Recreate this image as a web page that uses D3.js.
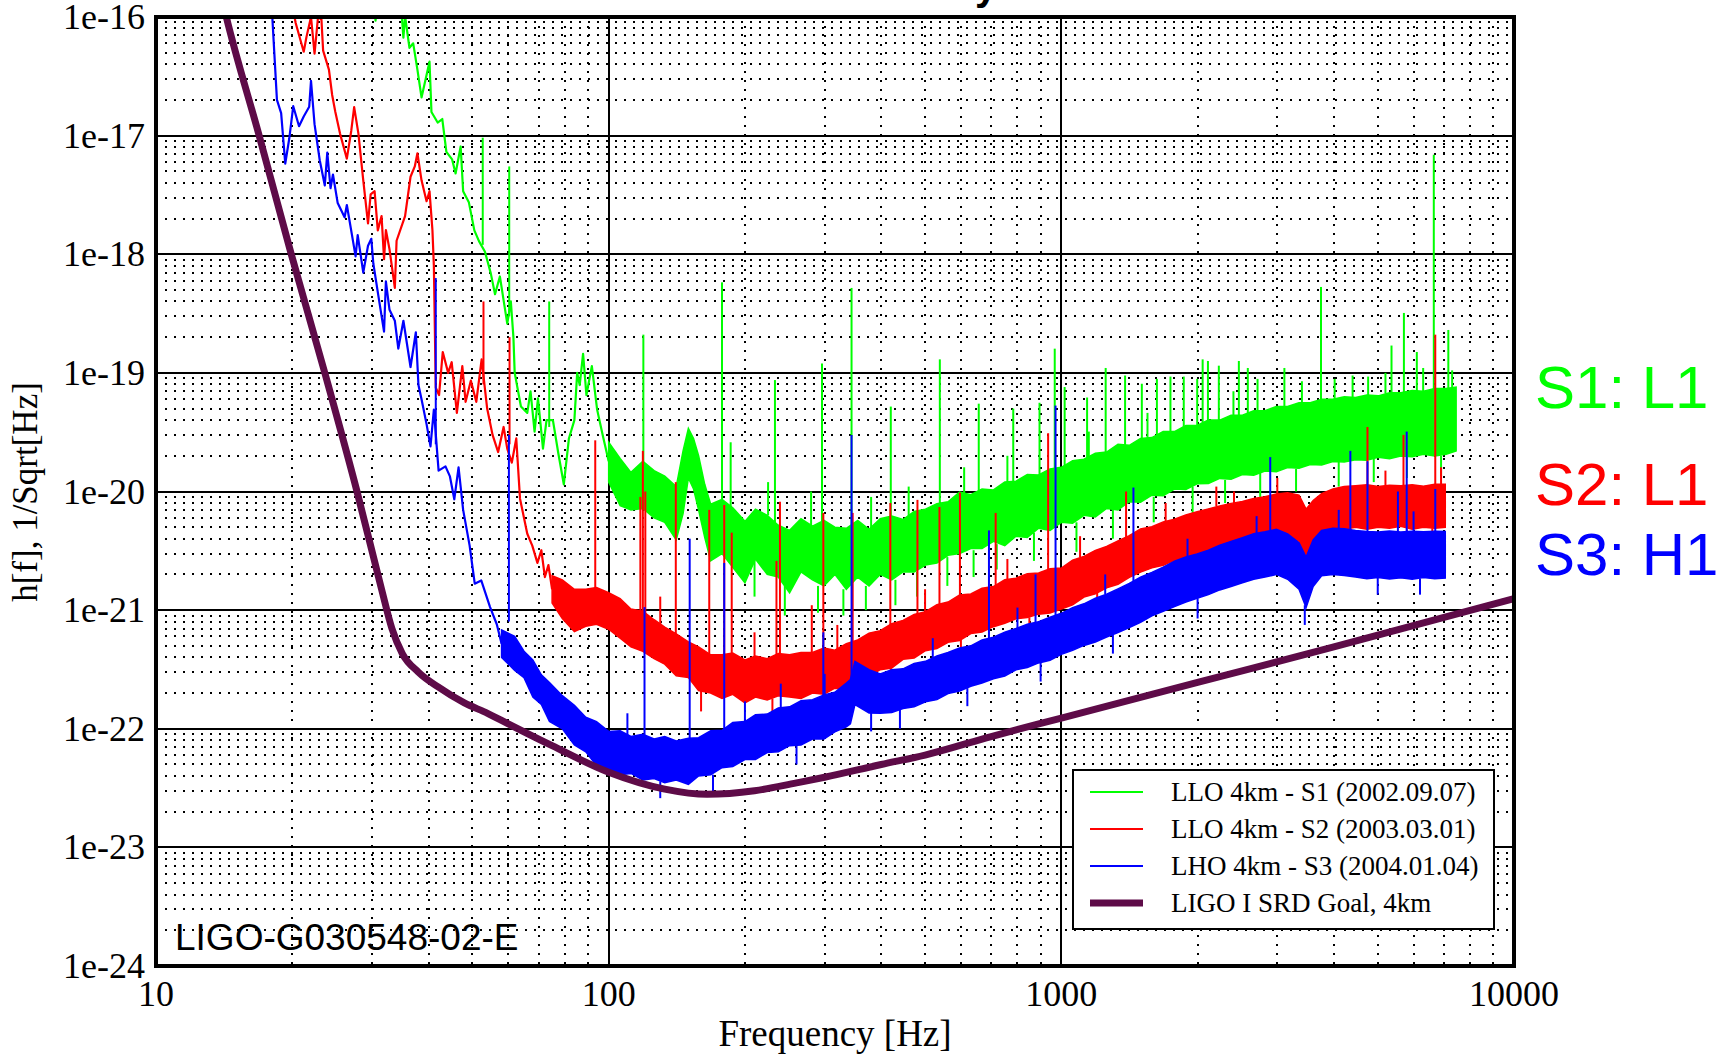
<!DOCTYPE html>
<html>
<head>
<meta charset="utf-8">
<script src="https://cdn.jsdelivr.net/npm/d3@7"></script>
<style>
  body { margin: 0; background: #ffffff; }
  svg { display: block; }
</style>
</head>
<body>
<svg id="chart" width="1732" height="1054"></svg>
<script>
// ---------------- DATA ----------------
const xTickValues = [10, 100, 1000, 10000];
const xTickLabels = ["10", "100", "1000", "10000"];
const yTickValues = [1e-16, 1e-17, 1e-18, 1e-19, 1e-20, 1e-21, 1e-22, 1e-23, 1e-24];
const yTickLabels = ["1e-16", "1e-17", "1e-18", "1e-19", "1e-20", "1e-21", "1e-22", "1e-23", "1e-24"];

const seriesNames = ["LLO 4km - S1 (2002.09.07)", "LLO 4km - S2 (2003.03.01)", "LHO 4km - S3 (2004.01.04)", "LIGO I SRD Goal, 4km"];
const sideLabels = ["S1: L1", "S2: L1", "S3: H1"];

// S1 (green) : low-frequency single trace [f, h]
const greenLine = [
  [30.2, 1.4e-16], [30.55, 9.3e-17], [30.9, 1.4e-16], [34.7, 1.4e-16], [35.2, 6.7e-17], [35.5, 1.02e-16],
  [36.3, 5.5e-17], [37.0, 6.0e-17], [37.8, 3.6e-17], [38.6, 2.1e-17], [40.2, 4.2e-17], [40.6, 1.58e-17],
  [41.9, 1.29e-17], [42.9, 1.38e-17], [43.8, 7.3e-18], [45.1, 6.3e-18], [45.9, 4.8e-18], [47.1, 8.1e-18],
  [47.7, 3.4e-18], [49.1, 2.75e-18], [50.5, 1.59e-18], [51.7, 1.29e-18], [53.3, 1.05e-18], [54.9, 6.9e-19],
  [56.1, 4.6e-19], [57.5, 6.5e-19], [59.7, 2.6e-19], [60.8, 4.0e-19], [61.6, 2.0e-19], [62.0, 1.0e-19],
  [64.0, 5.2e-20], [66.1, 4.6e-20], [67.2, 7.0e-20], [68.6, 3.2e-20], [69.8, 6.1e-20], [71.6, 2.3e-20],
  [72.9, 4.0e-20], [75.3, 4.0e-20], [77.4, 2.1e-20], [79.6, 1.15e-20], [81.7, 2.8e-20], [84.0, 4.0e-20],
  [85.2, 1.0e-19], [86.3, 7.9e-20], [87.8, 1.45e-19], [89.3, 6.5e-20], [91.8, 1.14e-19], [94.3, 4.9e-20],
  [97.0, 3.0e-20], [100, 1.8e-20]
];
// S1 (green) : noise band [f, low edge, high edge]
const greenBand = [
  [100, 1.2e-20, 2.6e-20], [106, 7.6e-21, 1.9e-20], [112, 7.0e-21, 1.45e-20], [119, 7.2e-21, 1.8e-20],
  [126, 6.0e-21, 1.5e-20], [133, 5.5e-21, 1.35e-20], [141, 3.9e-21, 1.1e-20], [146, 6.5e-21, 2.2e-20],
  [150, 1.3e-20, 3.4e-20], [154, 1.05e-20, 2.8e-20], [158, 7.0e-21, 2.0e-20], [163, 4.1e-21, 1.15e-20],
  [168, 2.6e-21, 7.8e-21], [178, 3.0e-21, 8.6e-21], [188, 2.3e-21, 7.3e-21], [200, 1.7e-21, 5.6e-21],
  [211, 2.7e-21, 7.1e-21], [224, 2.0e-21, 6.3e-21], [237, 1.9e-21, 5.2e-21], [251, 1.4e-21, 4.7e-21],
  [266, 2.1e-21, 5.9e-21], [282, 1.8e-21, 5.1e-21], [299, 1.6e-21, 5.7e-21], [316, 2.0e-21, 5.0e-21],
  [335, 1.5e-21, 4.9e-21], [355, 1.9e-21, 5.7e-21], [376, 1.6e-21, 4.8e-21], [398, 2.0e-21, 5.9e-21],
  [422, 1.8e-21, 6.2e-21], [447, 2.1e-21, 5.8e-21], [473, 2.1e-21, 6.8e-21], [501, 2.4e-21, 7.1e-21],
  [531, 2.5e-21, 7.9e-21], [562, 2.9e-21, 8.2e-21], [596, 3.0e-21, 9.9e-21], [631, 3.3e-21, 9.4e-21],
  [668, 3.3e-21, 1.05e-20], [708, 3.8e-21, 1.03e-20], [750, 3.5e-21, 1.2e-20], [794, 4.2e-21, 1.22e-20],
  [841, 4.1e-21, 1.39e-20], [891, 4.9e-21, 1.38e-20], [944, 4.7e-21, 1.55e-20], [1000, 5.5e-21, 1.6e-20],
  [1059, 5.4e-21, 1.82e-20], [1122, 6.3e-21, 1.87e-20], [1189, 6.1e-21, 2.1e-20], [1259, 7.2e-21, 2.15e-20],
  [1334, 7.0e-21, 2.5e-20], [1413, 8.2e-21, 2.45e-20], [1496, 8.1e-21, 2.8e-20], [1585, 9.3e-21, 2.85e-20],
  [1679, 9.2e-21, 3.2e-20], [1778, 1.05e-20, 3.2e-20], [1884, 1.04e-20, 3.6e-20], [1995, 1.16e-20, 3.6e-20],
  [2113, 1.17e-20, 4.0e-20], [2239, 1.29e-20, 4.0e-20], [2371, 1.27e-20, 4.4e-20], [2512, 1.39e-20, 4.4e-20],
  [2661, 1.37e-20, 4.8e-20], [2818, 1.49e-20, 4.8e-20], [2985, 1.47e-20, 5.2e-20], [3162, 1.59e-20, 5.2e-20],
  [3350, 1.57e-20, 5.6e-20], [3548, 1.69e-20, 5.6e-20], [3758, 1.67e-20, 6.0e-20], [3981, 1.79e-20, 6.0e-20],
  [4217, 1.77e-20, 6.3e-20], [4467, 1.85e-20, 6.2e-20], [4732, 1.83e-20, 6.5e-20], [5012, 1.94e-20, 6.4e-20],
  [5309, 1.89e-20, 6.8e-20], [5623, 1.99e-20, 6.8e-20], [5957, 1.96e-20, 7.1e-20], [6310, 2.06e-20, 7.0e-20],
  [6683, 1.99e-20, 7.4e-20], [7079, 2.06e-20, 7.4e-20], [7450, 2.2e-20, 7.6e-20]
];
// S1 (green) : line features [f, base, peak]
const greenSpikes = [
  [52.7, 1.2e-18, 9.6e-18], [60.3, 3.0e-19, 5.5e-18], [73.9, 3.5e-20, 4.0e-19], [119.3, 1.5e-20, 2.1e-19],
  [178, 7e-21, 5.8e-19], [186, 5e-21, 2.6e-20], [233, 4.5e-21, 8.7e-20], [296, 4e-21, 1.2e-19],
  [344, 4e-21, 5.2e-19], [420, 4e-21, 5.2e-20], [539, 5e-21, 1.3e-19], [657, 6e-21, 5.5e-20],
  [783, 7e-21, 5.0e-20], [895, 8e-21, 5.6e-20], [967, 9e-21, 1.6e-19], [1017, 1e-20, 7.6e-20],
  [1140, 1.1e-20, 6.2e-20], [1253, 1.2e-20, 1.1e-19], [1383, 1.3e-20, 9.5e-20], [1506, 1.4e-20, 8.1e-20],
  [1626, 1.5e-20, 8.9e-20], [1742, 1.6e-20, 9.3e-20], [1864, 1.7e-20, 9.3e-20], [1996, 1.8e-20, 8.9e-20],
  [2052, 1.9e-20, 1.3e-19], [2108, 1.9e-20, 1.26e-19], [2228, 2e-20, 1.15e-19], [2467, 2.2e-20, 1.26e-19],
  [2582, 2.3e-20, 1.1e-19], [2713, 2.4e-20, 8.9e-20], [3110, 2.6e-20, 1.1e-19], [3747, 3e-20, 5.3e-19],
  [4016, 3e-20, 8.9e-20], [4762, 3e-20, 9.3e-20], [5363, 3.2e-20, 1.7e-19], [5712, 3.2e-20, 3.2e-19],
  [6100, 3.3e-20, 1.5e-19], [6650, 3.5e-20, 6.9e-18], [7160, 3.5e-20, 2.3e-19]
];
// S1 (green) : ragged edges of the band [f, edge, tip]
const greenFuzz = [
  [210, 2.6e-21, 1.3e-21], [245, 1.6e-21, 9e-22], [290, 1.6e-21, 9.5e-22], [330, 1.5e-21, 9e-22],
  [370, 1.6e-21, 1.0e-21], [430, 1.8e-21, 1.1e-21], [480, 2.1e-21, 1.3e-21], [560, 2.8e-21, 1.6e-21],
  [640, 3.2e-21, 1.9e-21], [720, 3.6e-21, 2.2e-21], [870, 4.5e-21, 2.6e-21], [1080, 5.5e-21, 3.1e-21],
  [1300, 7e-21, 4e-21], [1600, 9e-21, 5.5e-21], [1950, 1.1e-20, 6.5e-21], [2300, 1.25e-20, 8e-21],
  [2750, 1.45e-20, 9e-21], [3300, 1.55e-20, 1.0e-20], [4100, 1.78e-20, 1.1e-20], [4900, 1.9e-20, 1.2e-20],
  [5800, 1.95e-20, 1.3e-20], [6900, 2.0e-20, 1.35e-20],
  [225, 6.3e-21, 1.2e-20], [280, 5.2e-21, 1.0e-20], [380, 4.9e-21, 9e-21], [460, 6.2e-21, 1.1e-20],
  [610, 9.6e-21, 1.6e-20], [760, 1.2e-20, 2.0e-20], [1150, 1.9e-20, 3.2e-20], [1550, 2.8e-20, 4.6e-20],
  [2400, 4.4e-20, 7e-20], [3400, 5.6e-20, 8.5e-20], [4400, 6.2e-20, 9.5e-20], [5200, 6.7e-20, 1.0e-19],
  [6300, 7.0e-20, 1.1e-19], [7300, 7.5e-20, 1.05e-19]
];

// S2 (red)
const redLine = [
  [19.9, 1.4e-16], [20.35, 8.9e-17], [21.2, 5.1e-17], [21.5, 6.8e-17], [22.0, 1.0e-16], [22.4, 4.9e-17],
  [22.8, 1.0e-16], [23.2, 9.5e-17], [23.4, 5.2e-17], [24.1, 3.6e-17], [24.5, 2.2e-17], [24.9, 1.58e-17],
  [25.5, 1.04e-17], [26.4, 6.4e-18], [27.0, 1.1e-17], [27.4, 1.74e-17], [28.0, 1.04e-17], [28.7, 4.2e-18],
  [29.4, 1.82e-18], [29.8, 3.2e-18], [30.4, 3.4e-18], [30.9, 1.59e-18], [31.5, 2.1e-18], [31.9, 9.1e-19],
  [32.2, 1.6e-18], [32.8, 1.1e-18], [33.7, 5.2e-19], [34.0, 1.3e-18], [35.5, 2.1e-18], [36.5, 4.5e-18],
  [37.3, 5.5e-18], [37.8, 7.1e-18], [38.6, 4.2e-18], [39.6, 2.8e-18], [40.2, 3.4e-18], [40.8, 1.6e-18],
  [41.1, 8e-19], [41.5, 7.5e-20], [42.2, 6.5e-20], [43.0, 1.5e-19], [44.2, 1.0e-19], [45.0, 1.23e-19],
  [46.2, 4.6e-20], [47.5, 1.14e-19], [48.3, 5.7e-20], [49.6, 8.6e-20], [51.0, 5.7e-20], [52.4, 1.3e-19],
  [53.9, 5e-20], [55.4, 3.0e-20], [57.0, 2.15e-20], [58.6, 3.5e-20], [59.7, 2.3e-20], [61.1, 1.75e-20],
  [62.5, 2.8e-20], [63.7, 8.7e-21], [66.1, 4.4e-21], [67.8, 3.5e-21], [69.6, 2.5e-21], [71.0, 3.2e-21],
  [72.3, 1.9e-21], [73.6, 2.4e-21], [75, 1.5e-21]
];
const redBand = [
  [75, 1.15e-21, 1.95e-21], [79, 8.5e-22, 1.8e-21], [84, 6.6e-22, 1.5e-21],
  [89, 7.3e-22, 1.5e-21], [94, 7.6e-22, 1.55e-21], [100, 6.9e-22, 1.4e-21], [106, 5.8e-22, 1.25e-21],
  [112, 4.9e-22, 1.02e-21], [119, 4.5e-22, 9.8e-22], [126, 3.9e-22, 8.3e-22], [133, 3.5e-22, 7.2e-22],
  [141, 2.8e-22, 6.3e-22], [150, 2.7e-22, 5.4e-22], [158, 2.1e-22, 4.9e-22], [168, 2.0e-22, 4.2e-22],
  [178, 1.8e-22, 4.2e-22], [188, 1.95e-22, 4.35e-22], [200, 1.65e-22, 3.8e-22], [211, 1.85e-22, 4.1e-22],
  [224, 1.75e-22, 3.9e-22], [237, 1.9e-22, 4.3e-22], [251, 1.85e-22, 4.2e-22], [266, 1.8e-22, 4.4e-22],
  [282, 2.0e-22, 4.4e-22], [299, 1.95e-22, 4.8e-22], [316, 2.2e-22, 4.6e-22], [335, 2.15e-22, 5.2e-22],
  [355, 2.65e-22, 5.6e-22], [376, 2.75e-22, 6.4e-22], [398, 3.15e-22, 6.7e-22], [422, 3.25e-22, 7.7e-22],
  [447, 3.85e-22, 8.2e-22], [473, 3.95e-22, 9.2e-22], [501, 4.55e-22, 9.7e-22], [531, 4.75e-22, 1.11e-21],
  [562, 5.35e-22, 1.17e-21], [596, 5.55e-22, 1.34e-21], [631, 6.35e-22, 1.37e-21], [668, 6.55e-22, 1.53e-21],
  [708, 7.25e-22, 1.58e-21], [750, 7.75e-22, 1.8e-21], [794, 8.45e-22, 1.86e-21], [841, 8.65e-22, 2.03e-21],
  [891, 9.25e-22, 2.06e-21], [944, 9.45e-22, 2.23e-21], [1000, 1.02e-21, 2.26e-21], [1059, 1.11e-21, 2.64e-21],
  [1122, 1.29e-21, 2.84e-21], [1189, 1.37e-21, 3.19e-21], [1259, 1.54e-21, 3.44e-21], [1334, 1.65e-21, 3.84e-21],
  [1413, 1.89e-21, 4.24e-21], [1496, 2.09e-21, 4.84e-21], [1585, 2.27e-21, 5.04e-21], [1679, 2.39e-21, 5.54e-21],
  [1778, 2.63e-21, 5.84e-21], [1884, 2.74e-21, 6.34e-21], [1995, 2.98e-21, 6.74e-21], [2113, 3.09e-21, 7.14e-21],
  [2239, 3.33e-21, 7.54e-21], [2371, 3.49e-21, 7.94e-21], [2512, 3.63e-21, 8.24e-21], [2661, 3.79e-21, 8.74e-21],
  [2818, 4.03e-21, 9.04e-21], [2985, 4.19e-21, 9.54e-21], [3162, 4.33e-21, 9.74e-21], [3350, 3.8e-21, 9.3e-21],
  [3473, 2.5e-21, 7.1e-21], [3600, 3.3e-21, 8.4e-21], [3758, 4.2e-21, 9.6e-21], [3981, 4.6e-21, 1.05e-20],
  [4217, 4.8e-21, 1.1e-20], [4467, 5.0e-21, 1.12e-20], [4732, 4.8e-21, 1.14e-20], [5012, 5.0e-21, 1.1e-20],
  [5309, 4.9e-21, 1.13e-20], [5623, 5.1e-21, 1.12e-20], [5957, 4.8e-21, 1.14e-20], [6310, 5.0e-21, 1.11e-20],
  [6683, 4.9e-21, 1.15e-20], [7050, 5.0e-21, 1.15e-20]
];
const redSpikes = [
  [52.9, 8e-20, 4e-19], [60.4, 2.5e-20, 2e-19], [93.4, 1e-21, 2.7e-20], [117.5, 7e-22, 9e-21],
  [119, 7e-22, 2.2e-20], [120.5, 7e-22, 1.0e-20], [140.7, 5e-22, 1.2e-20], [166.8, 3.5e-22, 7e-21],
  [180, 3.5e-22, 7.7e-21], [187, 3.5e-22, 4.5e-21], [234.8, 3e-22, 2.6e-21], [239, 3e-22, 8.2e-21],
  [281, 3e-22, 1.1e-21], [298, 3e-22, 6.6e-21], [346, 3.5e-22, 6.6e-21], [419, 4.5e-22, 8e-21],
  [481, 5e-22, 8.5e-21], [538, 6e-22, 7.4e-21], [597, 7e-22, 9.8e-21], [716, 1e-21, 6.6e-21],
  [935, 1.3e-21, 3.1e-20], [1390, 2.5e-21, 1e-20], [2407, 5e-21, 1e-20], [4746, 7e-21, 3.5e-20],
  [5700, 7e-21, 3e-20], [6700, 7e-21, 2.1e-19]
];
const redFuzz = [
  [160, 2.1e-22, 1.4e-22], [230, 1.8e-22, 1.2e-22], [300, 1.95e-22, 1.3e-22], [420, 3.25e-22, 2.2e-22],
  [600, 5.6e-22, 3.8e-22], [850, 8.7e-22, 6e-22], [1200, 1.4e-21, 1.0e-21], [1800, 2.65e-21, 1.9e-21],
  [2600, 3.75e-21, 2.8e-21], [4300, 4.8e-21, 3.6e-21], [5800, 4.8e-21, 3.7e-21], [6600, 4.9e-21, 3.8e-21],
  [130, 7.6e-22, 1.3e-21], [210, 4.1e-22, 6.5e-22], [320, 4.6e-22, 7.5e-22], [500, 9.7e-22, 1.5e-21],
  [760, 1.8e-21, 2.7e-21], [1100, 2.8e-21, 4.2e-21], [1700, 5.5e-21, 8e-21], [2200, 7.5e-21, 1.1e-20],
  [3000, 9.5e-21, 1.3e-20], [5200, 1.13e-20, 1.5e-20], [6900, 1.15e-20, 1.6e-20]
];

// S3 (blue)
const blueLine = [
  [18.0, 1.3e-16], [18.5, 2.0e-17], [18.9, 1.55e-17], [19.3, 5.8e-18], [19.7, 9.5e-18], [20.1, 1.77e-17],
  [20.7, 1.2e-17], [21.2, 1.45e-17], [21.8, 1.75e-17], [22.0, 2.9e-17], [22.4, 1.25e-17], [23.0, 6.2e-18],
  [23.6, 3.8e-18], [23.9, 7.2e-18], [24.3, 3.6e-18], [24.6, 4.7e-18], [25.2, 2.7e-18], [26.1, 2.05e-18],
  [26.4, 2.6e-18], [27.1, 1.45e-18], [27.6, 9.6e-19], [27.9, 1.45e-18], [28.7, 7.0e-19], [29.4, 1.18e-18],
  [29.9, 1.35e-18], [30.2, 8.4e-19], [30.9, 4.8e-19], [31.9, 2.23e-19], [32.2, 5.9e-19], [32.8, 3.4e-19],
  [33.7, 2.75e-19], [34.3, 1.6e-19], [35.2, 2.75e-19], [36.5, 1.12e-19], [37.5, 2.2e-19], [38.0, 7.9e-20],
  [38.6, 6.0e-20], [39.6, 3.7e-20], [40.4, 2.4e-20], [41.1, 4.9e-20], [42.1, 1.5e-20], [43.6, 1.63e-20],
  [44.6, 1.34e-20], [45.6, 8.6e-21], [46.6, 1.6e-20], [47.7, 7e-21], [49.3, 3.5e-21], [50.6, 1.67e-21],
  [52.3, 1.78e-21], [54.7, 1.06e-21], [56.6, 7.6e-22], [58.0, 5.2e-22]
];
const blueBand = [
  [58, 4.0e-22, 6.8e-22], [62, 3.1e-22, 6.0e-22], [65, 2.7e-22, 4.5e-22], [68, 1.85e-22, 3.8e-22],
  [71, 1.6e-22, 2.85e-22], [74, 1.15e-22, 2.45e-22], [79, 1.0e-22, 1.9e-22], [84, 7.3e-23, 1.58e-22],
  [89, 6.4e-23, 1.25e-22], [94, 4.9e-23, 1.15e-22], [100, 4.6e-23, 9.5e-23], [106, 4.1e-23, 9.6e-23],
  [112, 4.2e-23, 8.6e-23], [119, 3.7e-23, 9.0e-23], [126, 3.8e-23, 8.2e-23], [133, 3.5e-23, 8.6e-23],
  [141, 3.7e-23, 7.9e-23], [150, 3.4e-23, 8.3e-23], [158, 4.0e-23, 8.4e-23], [168, 4.1e-23, 9.6e-23],
  [178, 4.7e-23, 9.7e-23], [188, 4.8e-23, 1.13e-22], [200, 5.5e-23, 1.15e-22], [211, 5.5e-23, 1.31e-22],
  [224, 6.3e-23, 1.33e-22], [237, 6.4e-23, 1.5e-22], [251, 7.2e-23, 1.53e-22], [266, 7.3e-23, 1.72e-22],
  [282, 8.2e-23, 1.76e-22], [299, 8.2e-23, 1.93e-22], [316, 9.4e-23, 2.03e-22], [335, 1.04e-22, 2.43e-22],
  [342, 1.1e-22, 2.6e-22], [350, 1.6e-22, 3.7e-22], [376, 1.36e-22, 3.15e-22], [398, 1.35e-22, 2.9e-22],
  [422, 1.37e-22, 3.15e-22], [447, 1.48e-22, 3.2e-22], [473, 1.53e-22, 3.55e-22], [501, 1.69e-22, 3.7e-22],
  [531, 1.76e-22, 4.1e-22], [562, 1.98e-22, 4.4e-22], [596, 2.08e-22, 4.8e-22], [631, 2.28e-22, 5.0e-22],
  [668, 2.43e-22, 5.6e-22], [708, 2.64e-22, 5.9e-22], [750, 2.78e-22, 6.5e-22], [794, 3.14e-22, 7.0e-22],
  [841, 3.28e-22, 7.6e-22], [891, 3.59e-22, 8.0e-22], [944, 3.78e-22, 8.7e-22], [1000, 4.24e-22, 9.4e-22],
  [1059, 4.58e-22, 1.05e-21], [1122, 5.04e-22, 1.13e-21], [1189, 5.38e-22, 1.26e-21], [1259, 5.94e-22, 1.36e-21],
  [1334, 6.48e-22, 1.51e-21], [1413, 7.14e-22, 1.68e-21], [1496, 7.88e-22, 1.9e-21], [1585, 8.94e-22, 2.08e-21],
  [1679, 9.78e-22, 2.3e-21], [1778, 1.07e-21, 2.58e-21], [1884, 1.17e-21, 2.8e-21], [1995, 1.26e-21, 2.98e-21],
  [2113, 1.35e-21, 3.2e-21], [2239, 1.48e-21, 3.53e-21], [2371, 1.58e-21, 3.8e-21], [2512, 1.7e-21, 4.08e-21],
  [2661, 1.82e-21, 4.4e-21], [2818, 1.9e-21, 4.58e-21], [2985, 2.0e-21, 4.8e-21], [3162, 1.82e-21, 4.4e-21],
  [3350, 1.5e-21, 3.7e-21], [3473, 1.05e-21, 2.8e-21], [3600, 1.58e-21, 3.9e-21], [3758, 1.95e-21, 4.7e-21],
  [3981, 2.0e-21, 4.9e-21], [4217, 1.96e-21, 4.85e-21], [4467, 1.9e-21, 4.7e-21], [4732, 1.84e-21, 4.6e-21],
  [5012, 1.88e-21, 4.55e-21], [5309, 1.83e-21, 4.65e-21], [5623, 1.87e-21, 4.55e-21], [5957, 1.82e-21, 4.62e-21],
  [6310, 1.88e-21, 4.58e-21], [6683, 1.84e-21, 4.63e-21], [7050, 1.86e-21, 4.6e-21]
];
const blueSpikes = [
  [41.5, 2.5e-20, 6.3e-19], [60.2, 8e-22, 3e-20], [120, 7e-23, 1.06e-21], [151, 6e-23, 4.0e-21],
  [180, 7e-23, 2.5e-21], [240, 9e-23, 2.4e-22], [298, 1.2e-22, 6.5e-22], [344, 1.4e-22, 3.0e-20],
  [692, 3.5e-22, 4.7e-21], [877, 5e-22, 2e-21], [971, 6e-22, 5.3e-20], [1443, 1e-21, 1.08e-20],
  [2894, 3e-21, 1.95e-20], [4350, 3e-21, 2.2e-20], [4746, 3e-21, 1.8e-20], [5540, 3e-21, 1e-20],
  [5794, 3e-21, 3.2e-20], [6700, 3e-21, 1.05e-20]
];
const blueFuzz = [
  [130, 3.6e-23, 2.6e-23], [170, 4.1e-23, 2.9e-23], [260, 7.2e-23, 5e-23], [380, 1.36e-22, 9.5e-23],
  [440, 1.46e-22, 1.0e-22], [620, 2.2e-22, 1.55e-22], [900, 3.6e-22, 2.5e-22], [1300, 6.2e-22, 4.3e-22],
  [2000, 1.26e-21, 8.5e-22], [3450, 1.1e-21, 7.5e-22], [5000, 1.88e-21, 1.35e-21], [6200, 1.85e-21, 1.35e-21],
  [110, 8.8e-23, 1.35e-22], [200, 1.15e-22, 1.7e-22], [300, 1.93e-22, 2.9e-22], [520, 3.9e-22, 5.8e-22],
  [800, 7.0e-22, 1.05e-21], [1250, 1.36e-21, 2.0e-21], [1900, 2.8e-21, 4.0e-21], [2700, 4.4e-21, 6.2e-21],
  [4100, 4.9e-21, 7e-21], [6000, 4.6e-21, 6.8e-21]
];

// LIGO I SRD goal (purple)
const srdGoal = [
  [14.0, 1.4e-16], [14.3, 1e-16], [16.9, 1e-17], [19.9, 1e-18], [23.6, 1e-19], [27.8, 1e-20], [31.5, 1.5e-21],
  [33.2, 7e-22], [35, 4.3e-22], [38, 3.0e-22], [42, 2.25e-22], [48, 1.65e-22], [54, 1.35e-22],
  [60, 1.1e-22], [75, 7.2e-23], [100, 4.3e-23], [133, 3.1e-23], [165, 2.8e-23], [210, 3.0e-23],
  [260, 3.5e-23], [300, 3.9e-23], [400, 5.0e-23], [500, 6.0e-23], [700, 8.6e-23], [1000, 1.23e-22],
  [2000, 2.46e-22], [4000, 4.9e-22], [10000, 1.25e-21]
];

// ---------------- DRAWING ----------------
const svg = d3.select("#chart");
const plot = { left: 156, right: 1514, top: 17, bottom: 966 };
const x = d3.scaleLog().domain([10, 10000]).range([plot.left, plot.right]);
const y = d3.scaleLog().domain([1e-24, 1e-16]).range([plot.bottom, plot.top]);

const colors = ["#00ff00", "#ff0000", "#0000ff", "#5e0b48"];
const serif = "'Liberation Serif', 'Times New Roman', serif";
const sans = "'Liberation Sans', Arial, sans-serif";

svg.append("rect").attr("width", 1732).attr("height", 1054).attr("fill", "#ffffff");

// title (cut at the top edge: only descenders show)
svg.append("text")
  .attr("x", (plot.left + plot.right) / 2).attr("y", 0)
  .attr("text-anchor", "middle")
  .attr("font-family", sans).attr("font-weight", "bold").attr("font-size", 40)
  .text("Strain Sensitivity");

svg.append("defs").append("clipPath").attr("id", "clip")
  .append("rect").attr("x", plot.left).attr("y", plot.top)
  .attr("width", plot.right - plot.left).attr("height", plot.bottom - plot.top);

const grid = svg.append("g").attr("shape-rendering", "crispEdges");
const isMajor = v => Math.abs(Math.log10(v) - Math.round(Math.log10(v))) < 1e-6;
// minor dotted grid
grid.selectAll("line.xminor").data(x.ticks().filter(v => !isMajor(v))).enter().append("line")
  .attr("x1", d => x(d)).attr("x2", d => x(d)).attr("y1", plot.top).attr("y2", plot.bottom)
  .attr("stroke", "#000").attr("stroke-width", 2).attr("stroke-dasharray", "2,7");
grid.selectAll("line.yminor").data(y.ticks().filter(v => !isMajor(v))).enter().append("line")
  .attr("y1", d => y(d)).attr("y2", d => y(d)).attr("x1", plot.left).attr("x2", plot.right)
  .attr("stroke", "#000").attr("stroke-width", 2).attr("stroke-dasharray", "2,7");
// major solid grid
grid.selectAll("line.xmajor").data(xTickValues.slice(1, -1)).enter().append("line")
  .attr("x1", d => x(d)).attr("x2", d => x(d)).attr("y1", plot.top).attr("y2", plot.bottom)
  .attr("stroke", "#000").attr("stroke-width", 2);
grid.selectAll("line.ymajor").data(yTickValues.slice(1, -1)).enter().append("line")
  .attr("y1", d => y(d)).attr("y2", d => y(d)).attr("x1", plot.left).attr("x2", plot.right)
  .attr("stroke", "#000").attr("stroke-width", 2);

const data = svg.append("g").attr("clip-path", "url(#clip)");
const line = d3.line().x(d => x(d[0])).y(d => y(d[1])).curve(d3.curveLinear);
const area = d3.area().x(d => x(d[0])).y0(d => y(d[1])).y1(d => y(d[2]));

function drawSeries(lineData, bandData, spikes, fuzz, color) {
  const g = data.append("g");
  g.append("path").datum(bandData).attr("d", area)
    .attr("fill", color).attr("stroke", color).attr("stroke-width", 1.5);
  g.append("path").datum(lineData).attr("d", line)
    .attr("fill", "none").attr("stroke", color).attr("stroke-width", 2.2).attr("stroke-linejoin", "round");
  g.selectAll("line.fuzz").data(fuzz).enter().append("line")
    .attr("x1", d => x(d[0])).attr("x2", d => x(d[0]))
    .attr("y1", d => y(d[1])).attr("y2", d => y(d[2]))
    .attr("stroke", color).attr("stroke-width", 2);
  g.selectAll("line.spike").data(spikes).enter().append("line")
    .attr("x1", d => x(d[0])).attr("x2", d => x(d[0]))
    .attr("y1", d => y(d[1])).attr("y2", d => y(d[2]))
    .attr("stroke", color).attr("stroke-width", 2);
}
drawSeries(greenLine, greenBand, greenSpikes, greenFuzz, colors[0]);
drawSeries(redLine, redBand, redSpikes, redFuzz, colors[1]);
drawSeries(blueLine, blueBand, blueSpikes, blueFuzz, colors[2]);
data.append("path").datum(srdGoal).attr("d", d3.line().x(d => x(d[0])).y(d => y(d[1])).curve(d3.curveMonotoneX))
  .attr("fill", "none").attr("stroke", colors[3]).attr("stroke-width", 7).attr("stroke-linejoin", "round");

// frame
svg.append("rect").attr("x", plot.left).attr("y", plot.top)
  .attr("width", plot.right - plot.left).attr("height", plot.bottom - plot.top)
  .attr("fill", "none").attr("stroke", "#000").attr("stroke-width", 4);

// tick labels
svg.selectAll("text.ytick").data(yTickValues).enter().append("text")
  .attr("x", plot.left - 11).attr("y", d => y(d) + 12)
  .attr("text-anchor", "end").attr("font-family", serif).attr("font-size", 36)
  .text((d, i) => yTickLabels[i]);
svg.selectAll("text.xtick").data(xTickValues).enter().append("text")
  .attr("x", d => x(d)).attr("y", 1006)
  .attr("text-anchor", "middle").attr("font-family", serif).attr("font-size", 36)
  .text((d, i) => xTickLabels[i]);

// axis titles
svg.append("text").attr("x", (plot.left + plot.right) / 2).attr("y", 1046)
  .attr("text-anchor", "middle").attr("font-family", serif).attr("font-size", 37)
  .text("Frequency [Hz]");
svg.append("text").attr("transform", "translate(37,492) rotate(-90)")
  .attr("text-anchor", "middle").attr("font-family", serif).attr("font-size", 35)
  .text("h[f], 1/Sqrt[Hz]");

// document id
svg.append("text").attr("x", 175).attr("y", 950)
  .attr("font-family", sans).attr("font-size", 37).attr("fill", "#000")
  .text("LIGO-G030548-02-E");

// legend
const lg = svg.append("g");
lg.append("rect").attr("x", 1073).attr("y", 770).attr("width", 421).attr("height", 159)
  .attr("fill", "#fff").attr("stroke", "#000").attr("stroke-width", 2);
const legendWidths = [2, 2, 2, 7];
const legendRowY = [792, 829, 866, 903];
seriesNames.forEach((name, i) => {
  lg.append("line").attr("x1", 1090).attr("x2", 1143).attr("y1", legendRowY[i]).attr("y2", legendRowY[i])
    .attr("stroke", colors[i]).attr("stroke-width", legendWidths[i]);
  lg.append("text").attr("x", 1171).attr("y", legendRowY[i] + 9)
    .attr("font-family", serif).attr("font-size", 27).text(name);
});

// run labels on the right
const sideY = [408, 505, 575];
sideLabels.forEach((t, i) => {
  svg.append("text").attr("x", 1535).attr("y", sideY[i])
    .attr("font-family", sans).attr("font-size", 60).attr("fill", colors[i]).text(t);
});
</script>
</body>
</html>
